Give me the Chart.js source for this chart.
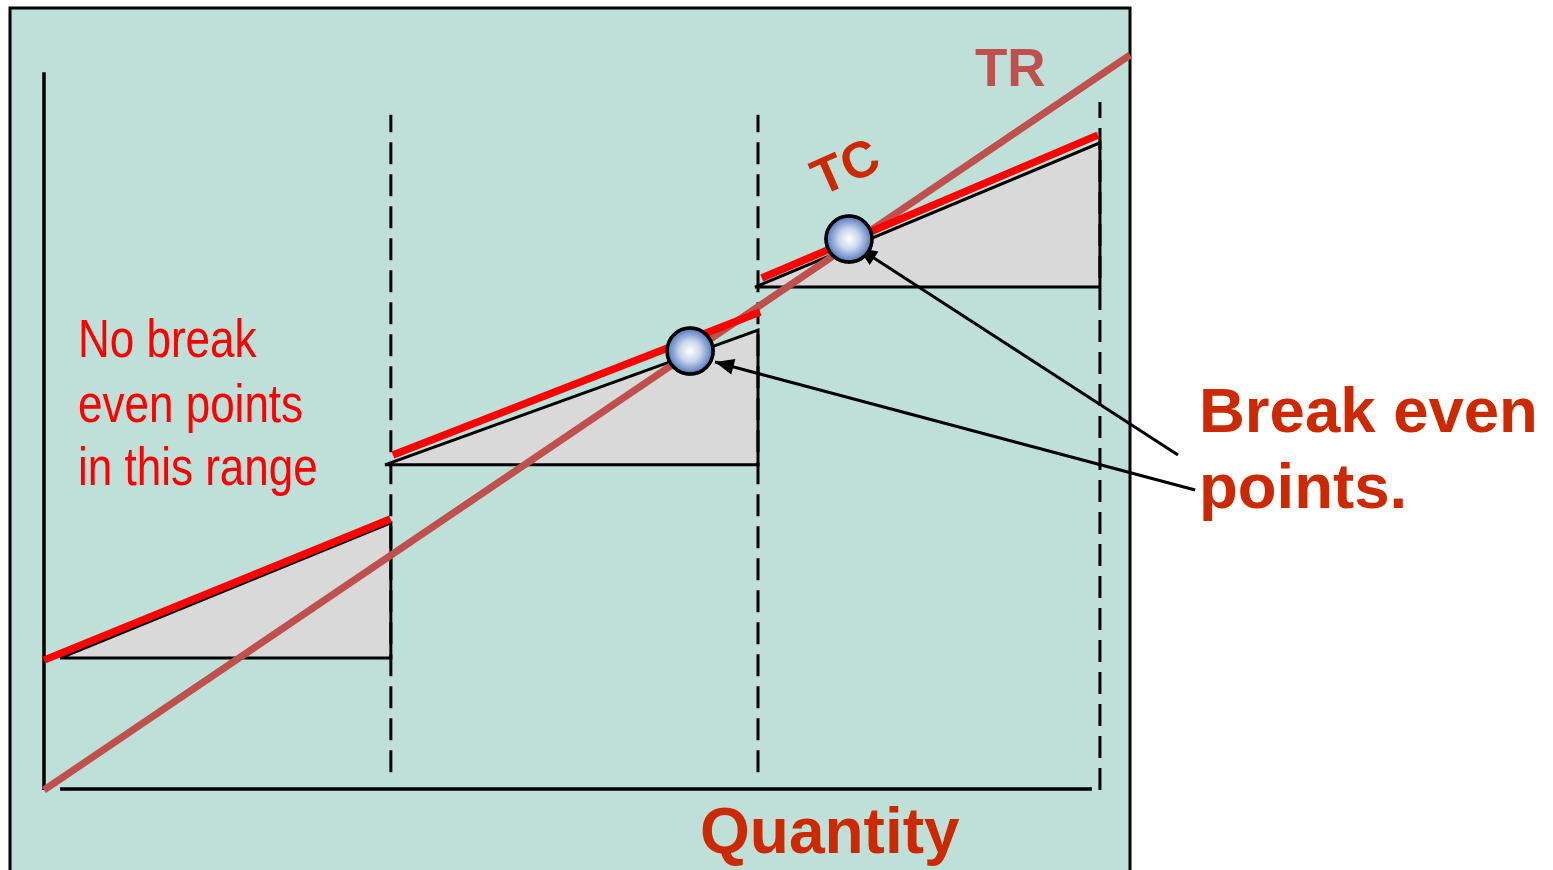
<!DOCTYPE html>
<html>
<head>
<meta charset="utf-8">
<title>Break even points</title>
<script src="https://cdn.jsdelivr.net/npm/chart.js@4.4.1/dist/chart.umd.min.js"></script>
<style>
  html, body { margin: 0; padding: 0; background: #ffffff; }
  #wrap { position: relative; width: 1553px; height: 870px; }
</style>
</head>
<body>
<div id="wrap"><canvas id="beChart"></canvas></div>
<script>
// quantity on x, cost / revenue on y (same units for both)
const capacitySteps = [0, 99.1, 204, 301.7];

// fixed cost for each capacity step and the top of its variable cost wedge
const fixedCost   = [37.7, 92.9, 143.7];
const wedgeStartQ = [4.6, 97.4, 203.1];
const wedgeTop    = [76.3, 131.4, 184.9];

// total cost, one straight piece per capacity step: [q0, c0, q1, c1]
const totalCost = [
  [0, 37.1, 99, 77.4],
  [99.7, 95.7, 204.6, 136.6],
  [205.1, 146.3, 301.1, 187.1]
];

// total revenue
const revenueQ = [0, 310.3];
const revenueC = [0, 210];

// break even points
const breakEvenQ = [184.6, 230];
const breakEvenC = [125.4, 157.4];

// callout arrows from the label to each point: [fromQ, fromC, toQ, toC]
const calloutArrows = [
  [328.9, 85.7, 191.7, 122.3],
  [324, 95.7, 232.6, 154.9]
];

// axis range
const xMin = -12.57, xMax = 431.14;
const yMin = -22.86, yMax = 225.71;

const FONT = '"Liberation Sans", Arial, sans-serif';
const DARK_RED = "#CC2900";
const MARKER_R = 23;

function seg(q0, c0, q1, c1) {
  return [{ x: q0, y: c0 }, { x: q1, y: c1 }];
}

const datasets = [];

// grey variable cost wedges
for (let i = 0; i < 3; i++) {
  datasets.push({
    data: [
      { x: wedgeStartQ[i], y: fixedCost[i] },
      { x: capacitySteps[i + 1], y: wedgeTop[i] },
      { x: capacitySteps[i + 1], y: fixedCost[i] },
      { x: wedgeStartQ[i], y: fixedCost[i] }
    ],
    showLine: true, fill: "shape", backgroundColor: "#D9D9D9",
    borderColor: "#000000", borderWidth: 3, pointRadius: 0, order: 6
  });
}

// capacity limits (dashed)
const dashed = { showLine: true, borderColor: "#000", borderWidth: 3, borderDash: [22, 10], pointRadius: 0, order: 5 };
datasets.push(Object.assign({ data: seg(capacitySteps[1], 5.1, capacitySteps[1], 192.9) }, dashed));
datasets.push(Object.assign({ data: seg(capacitySteps[2], 5.1, capacitySteps[2], 192.9) }, dashed));
datasets.push(Object.assign({ data: seg(capacitySteps[3], 0, capacitySteps[3], 196.6) }, dashed));

// axes
datasets.push({ data: seg(0, 0, 0, 205.1), showLine: true, borderColor: "#000", borderWidth: 3.5, pointRadius: 0, order: 4 });
datasets.push({ data: seg(4.6, 0.3, 299.4, 0.3), showLine: true, borderColor: "#000", borderWidth: 3.5, pointRadius: 0, order: 4 });

// TR
datasets.push({
  label: "TR",
  data: seg(revenueQ[0], revenueC[0], revenueQ[1], revenueC[1]),
  showLine: true, borderColor: "#C0504D", borderWidth: 7, pointRadius: 0, order: 3
});

// TC pieces
totalCost.forEach(p => {
  datasets.push({
    label: "TC",
    data: seg(p[0], p[1], p[2], p[3]),
    showLine: true, borderColor: "#FF0000", borderWidth: 7.5, pointRadius: 0, order: 2
  });
});

// callout arrows
calloutArrows.forEach(a => {
  datasets.push({
    label: "arrow",
    data: seg(a[0], a[1], a[2], a[3]),
    showLine: true, borderColor: "#000", borderWidth: 3, pointRadius: 0, order: 1
  });
});

// break even markers (shading is painted by the plugin below)
datasets.push({
  label: "breakEven",
  data: breakEvenQ.map((q, i) => ({ x: q, y: breakEvenC[i] })),
  showLine: false,
  pointRadius: MARKER_R,
  pointBorderWidth: 3,
  pointBorderColor: "#000000",
  pointBackgroundColor: "#6A8FCF",
  order: 0
});

// mint panel behind everything
const panelPlugin = {
  id: "panel",
  beforeDraw(chart) {
    const c = chart.ctx;
    c.save();
    c.fillStyle = "#ffffff";
    c.fillRect(0, 0, chart.width, chart.height);
    c.fillStyle = "#BFE0D8";
    c.fillRect(10, 8, 1120, 880);
    c.strokeStyle = "#000";
    c.lineWidth = 3;
    c.strokeRect(10, 8, 1120, 880);
    c.restore();
  }
};

// arrow heads on the callouts, shaded balls on the break even points
const overlayPlugin = {
  id: "overlay",
  afterDatasetsDraw(chart) {
    const c = chart.ctx;
    chart.data.datasets.forEach((ds, i) => {
      const pts = chart.getDatasetMeta(i).data;
      if (ds.label === "arrow") {
        const a = pts[0], b = pts[1];
        const ang = Math.atan2(b.y - a.y, b.x - a.x);
        c.save();
        c.translate(b.x, b.y);
        c.rotate(ang);
        c.fillStyle = "#000";
        c.beginPath();
        c.moveTo(0, 0);
        c.lineTo(-19, -8);
        c.lineTo(-19, 8);
        c.closePath();
        c.fill();
        c.restore();
      } else if (ds.label === "breakEven") {
        pts.forEach(p => {
          const g = c.createRadialGradient(p.x, p.y, 0, p.x, p.y, MARKER_R);
          g.addColorStop(0, "#FFFFFF");
          g.addColorStop(0.45, "#C9D6EE");
          g.addColorStop(1, "#4F75BA");
          c.save();
          c.beginPath();
          c.arc(p.x, p.y, MARKER_R, 0, Math.PI * 2);
          c.fillStyle = g;
          c.fill();
          c.lineWidth = 3.5;
          c.strokeStyle = "#000";
          c.stroke();
          c.restore();
        });
      }
    });
  }
};

// text labels
const labelPlugin = {
  id: "labels",
  afterDraw(chart) {
    const c = chart.ctx;
    c.save();
    c.textBaseline = "alphabetic";
    c.textAlign = "left";

    c.fillStyle = "#C0504D";
    c.font = "bold 53px " + FONT;
    c.fillText("TR", 975, 86);

    c.save();
    c.translate(845, 166);
    c.rotate(-24 * Math.PI / 180);
    c.fillStyle = DARK_RED;
    c.font = "bold 51px " + FONT;
    c.textAlign = "center";
    c.fillText("TC", 0, 18);
    c.restore();

    c.fillStyle = DARK_RED;
    c.font = "bold 64px " + FONT;
    c.fillText("Quantity", 700, 853);
    c.font = "bold 63.5px " + FONT;
    c.fillText("Break even", 1199, 432);
    c.fillText("points.", 1199, 508);

    // narrow red note on the first step
    c.fillStyle = "#FF0000";
    c.font = "54px " + FONT;
    const note = ["No break", "even points", "in this range"];
    const base = [357, 422, 485];
    note.forEach((t, i) => {
      c.save();
      c.translate(78, base[i]);
      c.scale(0.815, 1);
      c.fillText(t, 0, 0);
      c.restore();
    });
    c.restore();
  }
};

new Chart(document.getElementById("beChart"), {
  type: "scatter",
  data: { datasets: datasets },
  options: {
    responsive: true,
    maintainAspectRatio: false,
    animation: false,
    layout: { padding: 0, autoPadding: false },
    datasets: { scatter: { clip: false } },
    plugins: { legend: { display: false }, tooltip: { enabled: false } },
    scales: {
      x: { type: "linear", min: xMin, max: xMax, display: false },
      y: { type: "linear", min: yMin, max: yMax, display: false }
    },
    elements: { line: { tension: 0, borderCapStyle: "butt" } }
  },
  plugins: [panelPlugin, overlayPlugin, labelPlugin]
});
</script>
</body>
</html>
